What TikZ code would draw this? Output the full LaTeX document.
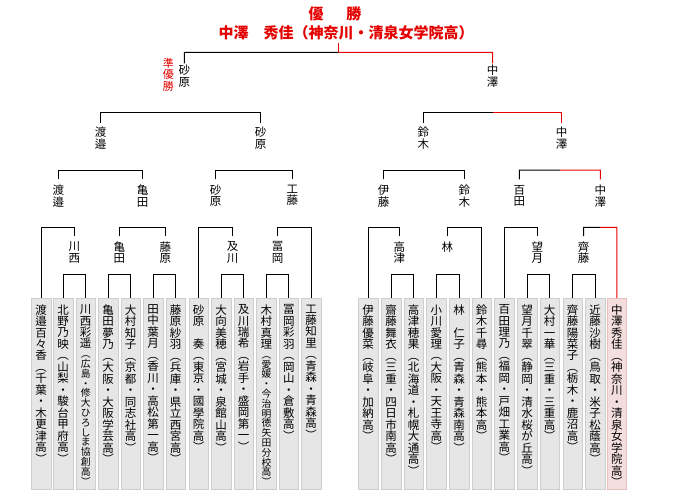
\documentclass[tikz,border=0pt]{standalone}
\usepackage{fontspec}
\setmainfont{Noto Sans CJK JP}
\usetikzlibrary{calc}
\definecolor{winred}{RGB}{228,0,0}
\definecolor{boxgray}{RGB}{230,230,230}
\definecolor{boxline}{RGB}{206,206,206}
\definecolor{winfill}{RGB}{243,221,221}
\definecolor{winline}{RGB}{232,190,190}

\def\tatestep#1{\ifx\relax#1\else\hbox to 12pt{\hss#1\hss}\expandafter\tatestep\fi}
\def\tatelist#1{\expandafter\tatestep#1\relax}
\newcommand\tate[1]{\vbox{\lineskiplimit=-50pt\tatelist{#1}}}

\begin{document}
\begin{tikzpicture}[x=1pt,y=-1pt,
    br/.style={line width=1pt},
    win/.style={line width=1pt,draw=winred},
    lab/.style={anchor=north,inner xsep=0pt,font=\fontsize{11.5}{11.4}\selectfont},
    pbox/.style={anchor=north,draw=boxline,fill=boxgray,minimum width=19.5pt,inner xsep=0pt,inner ysep=6.5pt},
    wbox/.style={pbox,draw=winline,fill=winfill}]
    \useasboundingbox (0,0) rectangle (680,490);

    \foreach \x/\nm/\sc/\fs/\st [count=\i] in {
        41/渡邉百々香/︵千葉・木更津高︶/11.5/pbox,
        63.2/北野乃映/︵山梨・駿台甲府高︶/11.5/pbox,
        85.7/川西彩遥/︵広島・修大ひろしま協創高︶/9.8/pbox,
        108.2/亀田夢乃/︵大阪・大阪学芸高︶/11.5/pbox,
        130.7/大村知子/︵京都・同志社高︶/11.5/pbox,
        153.2/田中葉月/︵香川・高松第一高︶/11.5/pbox,
        175.7/藤原紗羽/︵兵庫・県立西宮高︶/11.5/pbox,
        198.5/砂原　奏/︵東京・國學院高︶/11.5/pbox,
        221/大向美穂/︵宮城・泉館山高︶/11.5/pbox,
        243.6/及川瑞希/︵岩手・盛岡第一︶/11.5/pbox,
        266.4/木村真理/︵愛媛・今治明徳矢田分校高︶/9.8/pbox,
        288.8/冨岡彩羽/︵岡山・倉敷高︶/11.5/pbox,
        311.2/工藤知里/︵青森・青森高︶/11.5/pbox,
        368/伊藤優菜/︵岐阜・加納高︶/11.5/pbox,
        391/齋藤舞衣/︵三重・四日市南高︶/11.5/pbox,
        413.6/高津穂果/︵北海道・札幌大通高︶/11.5/pbox,
        436.4/小川愛理/︵大阪・天王寺高︶/11.5/pbox,
        459/林　仁子/︵青森・青森南高︶/11.5/pbox,
        481.6/鈴木千尋/︵熊本・熊本高︶/11.5/pbox,
        504.4/百田理乃/︵福岡・戸畑工業高︶/11.5/pbox,
        527/望月千翠/︵静岡・清水桜が丘高︶/11.5/pbox,
        549.6/大村一華/︵三重・三重高︶/11.5/pbox,
        572.6/齊藤陽菜子/︵栃木・鹿沼高︶/11.5/pbox,
        595.2/近藤沙樹/︵鳥取・米子松蔭高︶/11.5/pbox,
        616.8/中澤秀佳/︵神奈川・清泉女学院高︶/11.5/wbox}
        \node[\st] (p\i) at (\x,298) {\vbox to 178pt{\fontsize{11.5}{11.4}\selectfont\lineskiplimit=-50pt
            \tatelist{\nm}\fontsize{\fs}{\fs}\selectfont\tatelist{\sc}\vss}};

    % winners of each round
    \node[lab,inner ysep=5.5pt] (kawanishi2) at (74.3,236) {\tate{川西}};
    \node[lab,inner ysep=5.5pt] (kameda2) at (119.3,236) {\tate{亀田}};
    \node[lab,inner ysep=5.5pt] (fujiwara2) at (165.3,236) {\tate{藤原}};
    \node[lab,inner ysep=5.5pt] (oikawa2) at (232.5,236) {\tate{及川}};
    \node[lab,inner ysep=5.5pt] (tomioka2) at (277.5,236) {\tate{冨岡}};
    \node[lab,inner ysep=5.5pt] (takatsu2) at (399.3,236) {\tate{高津}};
    \node[lab,inner ysep=5.5pt] (hayashi2) at (447.3,236) {\tate{林}};
    \node[lab,inner ysep=5.5pt] (mochizuki2) at (537.3,236) {\tate{望月}};
    \node[lab,inner ysep=5.5pt] (saito2) at (583.5,236) {\tate{齊藤}};

    \node[lab,inner ysep=5.5pt] (watanabe3) at (58.3,179.3) {\tate{渡邉}};
    \node[lab,inner ysep=5.5pt] (kameda3) at (142.7,179.3) {\tate{亀田}};
    \node[lab,inner ysep=5.5pt] (sunahara3) at (215.7,179.3) {\tate{砂原}};
    \node[lab,inner ysep=5.5pt] (kudo3) at (292.3,179.3) {\tate{工藤}};
    \node[lab,inner ysep=5.5pt] (ito3) at (383.7,179.3) {\tate{伊藤}};
    \node[lab,inner ysep=5.5pt] (suzuki3) at (464.3,179.3) {\tate{鈴木}};
    \node[lab,inner ysep=5.5pt] (momota3) at (519.3,179.3) {\tate{百田}};
    \node[lab,inner ysep=5.5pt] (nakazawa3) at (600.3,179.3) {\tate{中澤}};

    \node[lab,inner ysep=4.3pt] (watanabe4) at (100.5,122.7) {\tate{渡邉}};
    \node[lab,inner ysep=4.3pt] (sunahara4) at (260.7,122.7) {\tate{砂原}};
    \node[lab,inner ysep=4.3pt] (suzuki4) at (423.3,122.7) {\tate{鈴木}};
    \node[lab,inner ysep=4.3pt] (nakazawa4) at (561.7,122.7) {\tate{中澤}};

    \node[lab,inner ysep=1.7pt] (sunahara5) at (184.3,63.3) {\tate{砂原}};
    \node[lab,inner ysep=1.7pt] (nakazawa5) at (492.7,63.3) {\tate{中澤}};

    \node[lab,inner ysep=0pt,text=winred,font=\fontsize{11}{11.5}\selectfont] (jun) at (168.3,58) {\tate{準優勝}};
    \node[text=winred,font=\fontsize{15}{15}\selectfont\bfseries] (yusho) at (335,14) {優\hspace{23pt}勝};
    \node[text=winred,font=\fontsize{15}{15}\selectfont\bfseries,inner ysep=3pt] (champ) at (346,32.7) {中澤　秀佳（神奈川・清泉女学院高）};

    \coordinate (y1) at (0,274.3);
    \coordinate (y2) at (0,227.3);
    \coordinate (y3) at (0,170.2);
    \coordinate (y4) at (0,112);
    \coordinate (y5) at (0,52.3);

    \foreach \a/\b in {p2/p3,p4/p5,p6/p7,p9/p10,p11/p12,p15/p16,p17/p18,p21/p22,p23/p24}
        \draw[br] (\a.north) -- (\a.north |- y1) -- (\b.north |- y1) -- (\b.north);
    \foreach \a/\b in {p1/kawanishi2,kameda2/fujiwara2,p8/oikawa2,tomioka2/p13,p14/takatsu2,hayashi2/p19,p20/mochizuki2}
        \draw[br] (\a.north) -- (\a.north |- y2) -- (\b.north |- y2) -- (\b.north);
    \foreach \a/\b in {watanabe3/kameda3,sunahara3/kudo3,ito3/suzuki3}
        \draw[br] (\a.north) -- (\a.north |- y3) -- (\b.north |- y3) -- (\b.north);
    \draw[br] (watanabe4.north) -- (watanabe4.north |- y4) -- (sunahara4.north |- y4) -- (sunahara4.north);

    % the champion's path
    \coordinate (m2) at ($(saito2.north |- y2)!.5!(p25.north |- y2)$);
    \coordinate (m3) at ($(momota3.north |- y3)!.5!(nakazawa3.north |- y3)$);
    \coordinate (m4) at ($(suzuki4.north |- y4)!.5!(nakazawa4.north |- y4)$);
    \coordinate (m5) at ($(sunahara5.north |- y5)!.5!(nakazawa5.north |- y5)$);
    \draw[br] (saito2.north) -- (saito2.north |- y2) -- (m2);
    \draw[win] (m2) -- (p25.north |- y2) -- (p25.north);
    \draw[br] (momota3.north) -- (momota3.north |- y3) -- (m3);
    \draw[win] (m3) -- (nakazawa3.north |- y3) -- (nakazawa3.north);
    \draw[br] (suzuki4.north) -- (suzuki4.north |- y4) -- (m4);
    \draw[win] (m4) -- (nakazawa4.north |- y4) -- (nakazawa4.north);
    \draw[br] (sunahara5.north) -- (sunahara5.north |- y5) -- (m5);
    \draw[win] (m5) -- (nakazawa5.north |- y5) -- (nakazawa5.north);
    \draw[win] (m5) -- (m5 |- champ.south);
\end{tikzpicture}
\end{document}
